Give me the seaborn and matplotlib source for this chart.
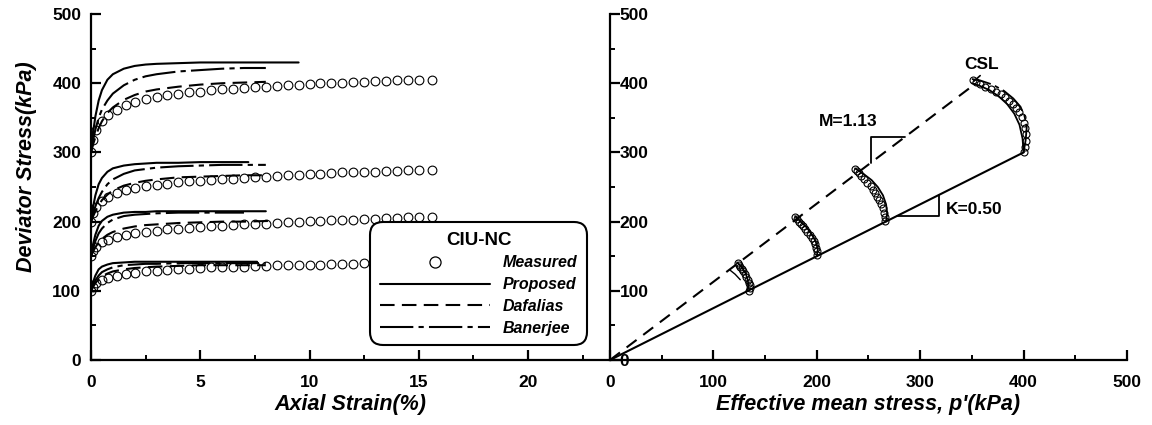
import matplotlib
matplotlib.use("Agg")
import matplotlib.pyplot as plt
from matplotlib.lines import Line2D
from matplotlib.font_manager import FontProperties
import seaborn as sns

# ---------------- data ----------------
# Left panel: deviator stress vs axial strain
strain_meas = [0.0, 0.1, 0.25, 0.5, 0.8, 1.2, 1.6, 2.0, 2.5, 3.0, 3.5, 4.0, 4.5, 5.0,
               5.5, 6.0, 6.5, 7.0, 7.5, 8.0, 8.5, 9.0, 9.5, 10.0, 10.5, 11.0, 11.5,
               12.0, 12.5, 13.0, 13.5, 14.0, 14.5, 15.0, 15.6]
q_meas_400 = [300, 318, 332, 345, 354, 362, 368, 373, 377, 380, 383, 385, 387, 388,
              390, 391, 392, 393, 394, 395, 396, 397, 398, 399, 400, 400, 401,
              402, 402, 403, 403, 404, 404, 404, 405]
q_meas_267 = [200, 212, 221, 230, 236, 241, 245, 248, 251, 253, 255, 257, 258, 259,
              260, 261, 262, 263, 264, 265, 266, 267, 268, 269, 269, 270, 271,
              271, 272, 272, 273, 273, 274, 274, 275]
q_meas_200 = [150, 158, 164, 170, 174, 178, 181, 183, 185, 187, 189, 190, 191, 192,
              193, 194, 195, 196, 197, 197, 198, 199, 200, 201, 201, 202, 203,
              203, 204, 204, 205, 205, 206, 206, 207]
q_meas_133 = [100, 106, 111, 116, 119, 122, 124, 126, 128, 129, 130, 131, 132, 133,
              134, 134, 135, 135, 136, 136, 137, 137, 138, 138, 138, 139, 139,
              139, 140, 140, 140, 140, 141, 141, 141]

# model curves (strain, q)
eps_prop_400 = [0, 0.1, 0.2, 0.35, 0.5, 0.75, 1.0, 1.5, 2.0, 2.5, 3.0, 4.0, 5.0, 6.0, 7.0, 8.0, 9.5]
q_prop_400 = [300, 330, 352, 375, 390, 405, 413, 421, 425, 427, 428, 429, 430, 430, 430, 430, 430]
eps_ban_400 = [0, 0.1, 0.2, 0.35, 0.5, 0.75, 1.0, 1.5, 2.0, 2.5, 3.0, 4.0, 5.0, 6.0, 7.0, 8.0]
q_ban_400 = [300, 318, 333, 350, 362, 375, 385, 397, 405, 410, 413, 417, 419, 421, 422, 422]
eps_daf_400 = [0, 0.1, 0.2, 0.35, 0.5, 0.75, 1.0, 1.5, 2.0, 2.5, 3.0, 4.0, 5.0, 6.0, 7.0, 8.0]
q_daf_400 = [300, 312, 322, 335, 345, 357, 365, 376, 383, 388, 391, 395, 398, 400, 401, 402]

eps_prop_267 = [0, 0.1, 0.2, 0.35, 0.5, 0.75, 1.0, 1.5, 2.0, 2.5, 3.0, 4.0, 5.0, 6.0, 7.2]
q_prop_267 = [200, 222, 238, 254, 263, 272, 277, 281, 283, 284, 285, 285, 286, 286, 286]
eps_ban_267 = [0, 0.1, 0.2, 0.35, 0.5, 0.75, 1.0, 1.5, 2.0, 2.5, 3.0, 4.0, 5.0, 6.0, 7.0, 8.0]
q_ban_267 = [200, 212, 222, 234, 243, 254, 261, 269, 274, 276, 278, 280, 281, 282, 282, 282]
eps_daf_267 = [0, 0.1, 0.2, 0.35, 0.5, 0.75, 1.0, 1.5, 2.0, 2.5, 3.0, 4.0, 5.0, 6.0, 7.0, 8.0]
q_daf_267 = [200, 208, 215, 224, 231, 239, 245, 252, 256, 259, 261, 264, 265, 266, 267, 267]

eps_prop_200 = [0, 0.1, 0.2, 0.35, 0.5, 0.75, 1.0, 1.5, 2.0, 2.5, 3.0, 4.0, 5.0, 6.0, 7.0, 8.0]
q_prop_200 = [150, 168, 181, 194, 201, 207, 210, 213, 214, 214, 215, 215, 215, 215, 215, 215]
eps_ban_200 = [0, 0.1, 0.2, 0.35, 0.5, 0.75, 1.0, 1.5, 2.0, 2.5, 3.0, 4.0, 5.0, 6.0, 7.0]
q_ban_200 = [150, 162, 172, 183, 190, 198, 203, 208, 210, 211, 212, 213, 213, 213, 213]
eps_daf_200 = [0, 0.1, 0.2, 0.35, 0.5, 0.75, 1.0, 1.5, 2.0, 2.5, 3.0, 4.0, 5.0, 6.0, 7.0, 8.2]
q_daf_200 = [150, 157, 163, 170, 175, 181, 185, 190, 193, 195, 196, 198, 199, 200, 200, 201]

eps_prop_133 = [0, 0.1, 0.2, 0.35, 0.5, 0.75, 1.0, 1.5, 2.0, 2.5, 3.0, 4.0, 5.0, 6.0, 7.6]
q_prop_133 = [100, 113, 122, 131, 135, 138, 140, 141, 142, 142, 142, 142, 142, 142, 142]
eps_ban_133 = [0, 0.1, 0.2, 0.35, 0.5, 0.75, 1.0, 1.5, 2.0, 2.5, 3.0, 4.0, 5.0, 6.0, 7.0, 8.0]
q_ban_133 = [100, 108, 115, 122, 127, 131, 134, 137, 138, 139, 139, 140, 140, 140, 140, 140]
eps_daf_133 = [0, 0.1, 0.2, 0.35, 0.5, 0.75, 1.0, 1.5, 2.0, 2.5, 3.0, 4.0, 5.0, 6.0, 7.0, 8.0]
q_daf_133 = [100, 106, 111, 117, 121, 125, 128, 131, 133, 134, 135, 136, 137, 137, 137, 137]

# Right panel: stress paths in p'-q plane
p_meas_400 = [400, 401, 402, 402, 401, 400, 398, 396, 393, 390, 386, 382, 378, 373, 368, 363, 358, 354, 351]
q_path_400 = [300, 308, 317, 326, 335, 343, 351, 358, 364, 370, 375, 380, 384, 388, 392, 395, 399, 402, 405]
p_meas_267 = [266, 266, 265, 264, 262, 260, 258, 256, 254, 252, 249, 246, 243, 241, 239, 237]
q_path_267 = [201, 207, 213, 219, 225, 231, 236, 241, 246, 251, 256, 261, 266, 270, 273, 276]
p_meas_200 = [200, 200, 199, 198, 197, 195, 193, 191, 189, 187, 185, 183, 181, 179]
q_path_200 = [152, 157, 162, 167, 172, 176, 181, 185, 189, 193, 197, 200, 204, 207]
p_meas_133 = [134, 135, 135, 134, 133, 132, 131, 129, 128, 126, 125, 124]
q_path_133 = [100, 104, 108, 112, 116, 120, 124, 128, 132, 135, 138, 140]

p_prop_400 = [400, 399, 396, 391, 384, 376, 367, 358, 350]
q_prop_path_400 = [300, 320, 340, 356, 370, 381, 390, 396, 400]
p_ban_400 = [400, 402, 403, 401, 397, 390, 381, 370, 358, 350]
q_ban_path_400 = [300, 318, 336, 352, 366, 378, 389, 398, 404, 406]
p_prop_267 = [267, 268, 267, 264, 259, 253, 246, 240, 237]
q_prop_path_267 = [200, 212, 225, 238, 250, 260, 268, 274, 277]
p_prop_200 = [200, 201, 199, 195, 190, 185, 181, 179]
q_prop_path_200 = [150, 160, 171, 182, 192, 199, 205, 208]
p_prop_133 = [133, 134, 133, 131, 128, 125, 123]
q_prop_path_133 = [100, 108, 117, 126, 133, 138, 141]
p_daf_133 = [126, 121, 116]
q_daf_path_133 = [116, 124, 130]

# reference lines
p_csl = [0, 350]
q_csl = [0, 395.5]
p_k = [0, 400]
q_k = [0, 300]

legend_labels = ["Measured", "Proposed", "Dafalias", "Banerjee"]

# ---------------- styling ----------------
sns.set_theme(style="ticks")
plt.rcParams['font.family'] = ['Liberation Sans', 'DejaVu Sans']
plt.rcParams['font.weight'] = 'bold'
plt.rcParams['axes.linewidth'] = 1.6
for k in ['text.color', 'axes.labelcolor', 'xtick.color', 'ytick.color', 'axes.edgecolor']:
    plt.rcParams[k] = 'black'

LW = 1.5
STY = {
    "Proposed": "-",
    "Dafalias": (0, (7, 3.5)),
    "Banerjee": (0, (16, 2.5, 2.5, 2.5)),
}

fig = plt.figure(figsize=(11.52, 4.25), dpi=100)
axL = fig.add_axes([0.0790, 0.1529, 0.4505, 0.8141])
axR = fig.add_axes([0.5295, 0.1529, 0.4488, 0.8141])


def line(ax, x, y, style, lw=LW):
    sns.lineplot(x=x, y=y, ax=ax, color="black", lw=lw, linestyle=style,
                 estimator=None, sort=False, legend=False)


def circles(ax, x, y, ms):
    sns.lineplot(x=x, y=y, ax=ax, linestyle="none", marker="o", markersize=ms,
                 mfc="none", mec="black", mew=0.8, estimator=None, sort=False,
                 legend=False)


# ---- left panel ----
for x, y in [(strain_meas, q_meas_400), (strain_meas, q_meas_267),
             (strain_meas, q_meas_200), (strain_meas, q_meas_133)]:
    circles(axL, x, y, 6.3)

for x, y in [(eps_prop_400, q_prop_400), (eps_prop_267, q_prop_267),
             (eps_prop_200, q_prop_200), (eps_prop_133, q_prop_133)]:
    line(axL, x, y, STY["Proposed"])
for x, y in [(eps_daf_400, q_daf_400), (eps_daf_267, q_daf_267),
             (eps_daf_200, q_daf_200), (eps_daf_133, q_daf_133)]:
    line(axL, x, y, STY["Dafalias"])
for x, y in [(eps_ban_400, q_ban_400), (eps_ban_267, q_ban_267),
             (eps_ban_200, q_ban_200), (eps_ban_133, q_ban_133)]:
    line(axL, x, y, STY["Banerjee"])

axL.set_xlim(0, 23.75)
axL.set_ylim(0, 500)
axL.set_xticks([0, 5, 10, 15, 20])
axL.set_xticks([2.5, 7.5, 12.5, 17.5, 22.5], minor=True)
axL.set_yticks([0, 100, 200, 300, 400, 500])
axL.set_yticks([50, 150, 250, 350, 450], minor=True)
axL.spines["top"].set_visible(False)
axL.spines["right"].set_visible(False)
axL.tick_params(which="major", direction="in", length=7, width=1.6, labelsize=12.5)
axL.tick_params(which="minor", direction="in", length=3.5, width=1.4)
axL.tick_params(axis="x", pad=11)
axL.tick_params(axis="y", pad=7)
axL.set_xlabel("Axial Strain(%)", fontsize=15.5, fontweight="bold", style="italic", labelpad=3)
axL.set_ylabel("Deviator Stress(kPa)", fontsize=15.5, fontweight="bold", style="italic")
axL.yaxis.set_label_coords(-0.104, 0.56)
for t in axL.get_xticklabels() + axL.get_yticklabels():
    t.set_fontweight("bold")

handles = [
    Line2D([], [], linestyle="none", marker="o", markersize=8, mfc="none", mec="black", mew=0.9),
    Line2D([], [], color="black", lw=LW, linestyle=STY["Proposed"]),
    Line2D([], [], color="black", lw=LW, linestyle=STY["Dafalias"]),
    Line2D([], [], color="black", lw=LW, linestyle=STY["Banerjee"]),
]
leg = axL.legend(handles, legend_labels, title="CIU-NC", loc="lower right",
                 bbox_to_anchor=(0.956, 0.043), borderaxespad=0, frameon=True,
                 fancybox=True, framealpha=1, edgecolor="black", facecolor="white",
                 handlelength=6.9, handletextpad=0.8, labelspacing=0.42, borderpad=0.6,
                 prop=FontProperties(family="Liberation Sans", weight="bold", style="italic", size=11.5),
                 title_fontproperties=FontProperties(family="Liberation Sans", weight="bold", size=13.5))
leg.get_frame().set_linewidth(1.5)
leg.get_frame().set_boxstyle("round", pad=0, rounding_size=0.8)
leg.set_zorder(10)

# ---- right panel ----
line(axR, p_csl, q_csl, (0, (6, 4)))
line(axR, p_k, q_k, "-")
for x, y in [(p_meas_400, q_path_400), (p_meas_267, q_path_267),
             (p_meas_200, q_path_200), (p_meas_133, q_path_133)]:
    circles(axR, x, y, 5)
for x, y in [(p_prop_400, q_prop_path_400), (p_prop_267, q_prop_path_267),
             (p_prop_200, q_prop_path_200), (p_prop_133, q_prop_path_133)]:
    line(axR, x, y, STY["Proposed"], lw=1.3)
line(axR, p_ban_400, q_ban_path_400, STY["Banerjee"], lw=1.3)
line(axR, p_daf_133, q_daf_path_133, "-", lw=1.0)

# slope triangles and labels
axR.plot([252, 252, 285], [285, 322, 322], color="black", lw=1.3)
axR.plot([278, 318, 318], [208.5, 208.5, 238.5], color="black", lw=1.3)
axR.plot([358, 352], [411, 403], color="black", lw=1.2)
axR.text(230, 344, "M=1.13", ha="center", va="center", fontsize=12.5, fontweight="bold")
axR.text(325, 218, "K=0.50", ha="left", va="center", fontsize=12.5, fontweight="bold")
axR.text(359, 427, "CSL", ha="center", va="center", fontsize=12.5, fontweight="bold")

axR.set_xlim(0, 500)
axR.set_ylim(0, 500)
axR.set_xticks([0, 100, 200, 300, 400, 500])
axR.set_xticks([50, 150, 250, 350, 450], minor=True)
axR.set_yticks([0, 100, 200, 300, 400, 500])
axR.set_yticks([50, 150, 250, 350, 450], minor=True)
axR.spines["top"].set_visible(False)
axR.spines["right"].set_visible(False)
axR.tick_params(which="major", direction="in", length=7, width=1.6, labelsize=12.5)
axR.tick_params(which="minor", direction="in", length=3.5, width=1.4)
axR.tick_params(axis="x", pad=11)
axR.tick_params(axis="y", pad=-7)
for t in axR.get_yticklabels():
    t.set_horizontalalignment("left")
for t in axR.get_xticklabels() + axR.get_yticklabels():
    t.set_fontweight("bold")
axR.set_xlabel("Effective mean stress, p'(kPa)", fontsize=15.5, fontweight="bold",
               style="italic", labelpad=3)
axR.set_ylabel("")

fig.savefig("out.png", dpi=100)
